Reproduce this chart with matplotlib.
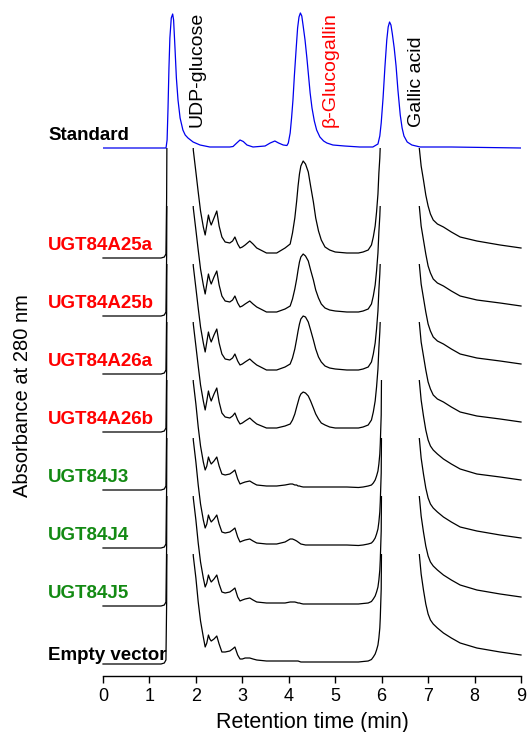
import matplotlib
matplotlib.use("Agg")
import matplotlib.pyplot as plt
import numpy as np
from matplotlib.transforms import Bbox, TransformedBbox

plt.rcParams['font.family'] = ['Liberation Sans', 'DejaVu Sans']

# ---------------- data ----------------
# Standard (blue) chromatogram: retention time (min) and absorbance (a.u.)
std_time = [0.00, 1.357, 1.38, 1.40, 1.42, 1.44, 1.47, 1.50, 1.52, 1.55, 1.58, 1.615,
            1.66, 1.72, 1.77, 1.83, 1.94, 2.09, 2.30,
            2.73, 2.80, 2.88, 2.95, 3.02, 3.10, 3.23,
            3.49, 3.60, 3.70, 3.78, 3.88, 3.96,
            3.99, 4.03, 4.06, 4.09, 4.12, 4.16, 4.19, 4.22, 4.25, 4.28, 4.31, 4.35,
            4.39, 4.43, 4.46, 4.50, 4.55, 4.60, 4.67, 4.75, 4.82, 4.95, 5.20, 5.53, 5.81,
            5.92, 5.96, 5.99, 6.03, 6.07, 6.11, 6.14, 6.17, 6.20, 6.23, 6.27, 6.31,
            6.35, 6.40, 6.44, 6.48, 6.55, 6.65, 6.83, 7.50, 9.00]
std_abs = [0, 0, 8, 40, 80, 110, 130, 134, 128, 100, 70, 48,
           30, 18, 13, 10, 6, 3, 1,
           1, 1.5, 5, 8, 6.5, 3, 1,
           2, 5, 7, 5, 3, 2.5,
           5, 15, 30, 48, 72, 100, 120, 131, 135, 132, 122, 108,
           90, 70, 55, 40, 27, 18, 11, 7, 5, 3, 2, 1, 1,
           4, 12, 25, 50, 81, 108, 121, 126, 123, 114, 100, 82,
           58, 33, 20, 12, 6, 3, 1, 1, 0]

# Sample chromatograms share one retention-time grid
sample_time = [0.00, 1.25, 1.32, 1.355, 1.37, 1.39, 1.60, 1.90,
               1.944, 2.00, 2.05, 2.10, 2.16, 2.20, 2.235, 2.27, 2.30, 2.33, 2.39, 2.45,
               2.50, 2.56, 2.63, 2.73, 2.79, 2.84, 2.90, 2.95, 3.00, 3.06, 3.16, 3.23, 3.31,
               3.52, 3.74, 3.92, 4.03, 4.08, 4.13, 4.17, 4.20, 4.23, 4.26, 4.31, 4.36,
               4.42, 4.47, 4.53, 4.58, 4.64, 4.70, 4.78, 4.88, 5.00, 5.25,
               5.50, 5.60, 5.71, 5.78, 5.82, 5.86, 5.89, 5.92, 5.94, 5.96, 5.97, 5.99, 6.01,
               6.40, 6.76,
               6.81, 6.85, 6.90, 6.95, 7.00, 7.05, 7.11, 7.20, 7.33, 7.50, 7.69, 8.05, 8.55, 9.00]

ugt84a25a = [0, 0, 1, 4, 60, 250, 400, 180,
             108, 86, 66, 47, 31, 23, 33, 43, 37, 33, 40, 47,
             32, 21, 16, 15, 17, 21, 14, 10, 11, 13, 17, 14, 10,
             5, 5, 10, 14, 25, 40, 57, 72, 84, 92, 97, 94,
             86, 72, 56, 40, 27, 18, 11, 8, 6, 5,
             5, 6, 8, 13, 21, 32, 46, 64, 85, 100, 112, 150, 200,
             400, 200,
             110, 92, 78, 63, 52, 44, 38, 34, 31, 26, 21, 17, 13, 10]
ugt84a25b = [0, 0, 1, 4, 60, 250, 400, 180,
             108, 86, 66, 47, 31, 22, 32, 42, 36, 32, 39, 45,
             31, 20, 15, 14, 16, 20, 13, 9, 10, 12, 15, 12, 9,
             4, 4, 7, 10, 17, 27, 37, 46, 54, 59, 62, 60,
             55, 46, 36, 26, 18, 12, 8, 6, 5, 4,
             4, 5, 7, 12, 20, 31, 45, 63, 84, 100, 112, 150, 200,
             400, 200,
             110, 90, 76, 62, 50, 43, 37, 33, 30, 25, 20, 16, 13, 10]
ugt84a26a = [0, 0, 1, 4, 60, 250, 400, 180,
             108, 86, 66, 47, 31, 22, 32, 42, 36, 32, 39, 45,
             31, 20, 15, 14, 16, 20, 13, 9, 10, 12, 15, 12, 9,
             4, 4, 7, 10, 16, 25, 35, 43, 50, 55, 58, 57,
             52, 44, 34, 25, 17, 12, 8, 6, 5, 4,
             4, 5, 7, 12, 20, 31, 45, 63, 84, 100, 112, 150, 200,
             400, 200,
             110, 90, 76, 62, 50, 43, 37, 33, 30, 25, 20, 16, 13, 10]
ugt84a26b = [0, 0, 1, 4, 60, 250, 400, 180,
             108, 86, 66, 47, 31, 22, 31, 41, 35, 31, 38, 44,
             30, 19, 15, 14, 16, 19, 12, 8, 9, 11, 14, 11, 8,
             4, 4, 6, 8, 12, 18, 25, 30, 35, 38, 40, 39,
             36, 31, 24, 18, 13, 9, 7, 5, 4, 4,
             4, 5, 7, 12, 20, 31, 45, 63, 84, 100, 112, 150, 200,
             400, 200,
             110, 90, 76, 62, 50, 43, 37, 33, 30, 25, 20, 16, 13, 10]
ugt84j3 = [0, 0, 1, 4, 60, 250, 400, 180,
           108, 86, 63, 44, 28, 20, 24, 33, 29, 26, 29, 33,
           24, 16, 15, 16, 18, 20, 11, 6, 7, 8, 9, 7, 5,
           4, 4, 5, 6, 6, 5, 5, 4, 4, 3.5, 3, 3,
           3, 3, 3, 3, 3, 3, 3, 3, 3, 3,
           2.5, 3, 4, 5, 7, 10, 14, 19, 26, 36, 46, 75, 200,
           400, 200,
           110, 90, 74, 60, 50, 44, 40, 36, 31, 26, 21, 16, 13, 10]
ugt84j4 = [0, 0, 1, 4, 60, 250, 400, 180,
           108, 86, 63, 44, 28, 20, 24, 33, 29, 26, 29, 33,
           24, 16, 15, 16, 18, 20, 11, 6, 7, 8, 9, 7, 5,
           4, 4, 6, 9, 9, 8, 7, 6, 5, 4, 3.5, 3,
           3, 3, 3, 3, 3, 3, 3, 3, 3, 3,
           2.5, 3, 4, 5, 7, 10, 14, 19, 26, 36, 46, 75, 200,
           400, 200,
           110, 90, 74, 60, 50, 44, 40, 36, 31, 26, 21, 17, 13, 10]
ugt84j5 = [0, 0, 1, 4, 60, 250, 400, 180,
           108, 86, 63, 44, 28, 19, 23, 31, 27, 24, 27, 31,
           22, 14, 13, 14, 16, 18, 9, 5, 6, 7, 8, 6, 4,
           3, 3, 3, 4, 4, 4, 3.5, 3, 3, 2.5, 2, 2,
           2, 2, 2, 2, 2, 2, 2, 2, 2, 2,
           2, 2.5, 3, 4.5, 7, 10, 14, 19, 26, 36, 46, 75, 200,
           400, 200,
           110, 90, 74, 60, 50, 44, 40, 36, 31, 26, 21, 16, 12, 9]
empty_vector = [0, 0, 1, 4, 60, 250, 400, 180,
                108, 86, 62, 43, 27, 17, 21, 29, 25, 23, 25, 28,
                20, 12, 12, 13, 15, 17, 9, 5, 5, 6, 6, 5, 4,
                3, 3, 3, 3, 3, 3, 3, 3, 2.5, 2, 2, 2,
                2, 2, 2, 2, 2, 2, 2, 2, 2, 2,
                2, 2.5, 3, 4.5, 7, 10, 14, 19, 26, 36, 46, 75, 200,
                400, 200,
                110, 90, 74, 60, 50, 44, 40, 36, 31, 26, 21, 16, 12, 9]

sample_names = ['UGT84A25a', 'UGT84A25b', 'UGT84A26a', 'UGT84A26b',
                'UGT84J3', 'UGT84J4', 'UGT84J5', 'Empty vector']
sample_values = [ugt84a25a, ugt84a25b, ugt84a26a, ugt84a26b,
                 ugt84j3, ugt84j4, ugt84j5, empty_vector]
sample_colors = ['#ff0000'] * 4 + ['#138a13'] * 3 + ['black']

peak_names = ['UDP-glucose', 'β-Glucogallin', 'Gallic acid']
peak_pos = [2.03, 4.89, 6.74]
peak_colors = ['black', '#ff0000', 'black']

x_ticks = list(range(0, 10))

# ---------------- layout ----------------
std_offset = 528
first_offset = 418
spacing = 58
cap = 110

fig = plt.figure(figsize=(5.28, 7.32), dpi=100)
ax = fig.add_axes([103 / 528, 56 / 732, 418 / 528, 676 / 732])
ax.set_xlim(0, 9)
ax.set_ylim(0, 676)

# standard
ax.plot(std_time, np.array(std_abs) + std_offset, color='#0000ee', lw=0.9)
ax.text(-1.18, std_offset + 12, 'Standard', ha='left', va='center', fontsize=13.5,
        fontweight='bold', color='black', clip_on=False)

n = len(sample_names)
for i, (name, vals, col) in enumerate(zip(sample_names, sample_values, sample_colors)):
    off = first_offset - spacing * i
    ln, = ax.plot(sample_time, np.array(vals) + off, color='black', lw=0.9)
    ln.set_clip_box(TransformedBbox(Bbox([[-1, off - 30], [10, off + cap]]), ax.transData))
    dy = 9 if i == n - 1 else 12
    ax.text(-1.18, off + dy, name, ha='left', va='center', fontsize=13.5,
            fontweight='bold', color=col, clip_on=False)

for name, pos, col in zip(peak_names, peak_pos, peak_colors):
    ax.text(pos, 549, name, rotation=90, ha='center', va='bottom', fontsize=14, color=col)

for s in ['left', 'right', 'top']:
    ax.spines[s].set_visible(False)
ax.spines['bottom'].set_linewidth(1.0)
ax.set_yticks([])
ax.set_xticks(x_ticks)
ax.tick_params(axis='x', direction='out', length=5, width=1.0, labelsize=13)
ax.set_xlabel('Retention time (min)', fontsize=15.5, labelpad=5)
ax.set_ylabel('Absorbance at 280 nm', fontsize=14.5)
ax.yaxis.set_label_coords(-0.17, 0.415)

fig.savefig('out.png', dpi=100)
